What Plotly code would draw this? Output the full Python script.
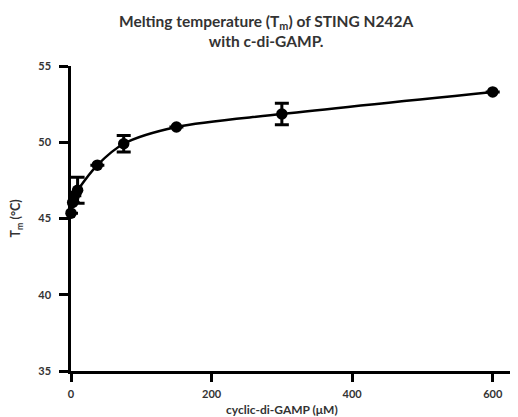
import plotly.graph_objects as go

# Data
conc_uM = [0, 2.34, 4.69, 9.375, 37.5, 75, 150, 300, 600]
tm_C = [45.35, 46.05, 46.5, 46.85, 48.5, 49.9, 51.0, 51.85, 53.3]
tm_err = [None, None, None, 0.85, None, 0.54, None, 0.7, None]

y_ticks = [35, 40, 45, 50, 55]
x_ticks = [0, 200, 400, 600]

FONT = "Lato"
TXT = "#333333"

fig = go.Figure()

# fitted curve (smooth line through the measured points)
fig.add_trace(go.Scatter(
    x=conc_uM, y=tm_C, mode="lines",
    line=dict(color="black", width=2.5, shape="spline", smoothing=0.9),
    hoverinfo="skip", cliponaxis=False, showlegend=False,
))

# measured points with error bars
fig.add_trace(go.Scatter(
    x=conc_uM, y=tm_C, mode="markers",
    marker=dict(color="black", size=11.5),
    error_y=dict(type="data", array=tm_err, color="black", thickness=3, width=7),
    cliponaxis=False, showlegend=False,
))

# page body adds an 8px offset, so the figure is 8px smaller than the window
fig.update_layout(
    width=510, height=409,
    margin=dict(l=63, r=0, t=58, b=46),
    paper_bgcolor="white", plot_bgcolor="white",
    font=dict(family=FONT, color=TXT),
    xaxis=dict(
        range=[0, 636], tickvals=x_ticks, ticktext=[str(v) for v in x_ticks],
        showgrid=False, zeroline=False,
        showline=True, linecolor="black", linewidth=2.5,
        ticks="outside", ticklen=8, tickwidth=2.5, tickcolor="black",
        tickfont=dict(family=FONT, size=11, color=TXT, weight="bold"),
        ticklabelstandoff=3,
    ),
    yaxis=dict(
        range=[35, 55], tickvals=y_ticks, ticktext=[str(v) for v in y_ticks],
        showgrid=False, zeroline=False,
        showline=True, linecolor="black", linewidth=2.5,
        ticks="outside", ticklen=9, tickwidth=2.5, tickcolor="black",
        tickfont=dict(family=FONT, size=11, color=TXT, weight="bold"),
        ticklabelstandoff=6,
    ),
    annotations=[
        dict(text="Melting temperature (T<sub>m</sub>) of STING N242A<br>with c-di-GAMP.",
             xref="paper", yref="paper", x=0.436, y=1.185, xanchor="center", yanchor="top",
             showarrow=False, align="center",
             font=dict(family=FONT, size=15.5, color=TXT, weight="bold")),
        dict(text="T<sub>m</sub> (°C)", textangle=-90,
             xref="paper", yref="paper", x=-0.121, y=0.5, xanchor="center", yanchor="middle",
             showarrow=False,
             font=dict(family=FONT, size=12.5, color=TXT, weight="bold")),
        dict(text="cyclic-di-GAMP (μM)",
             xref="paper", yref="paper", x=0.472, y=-0.125, xanchor="center", yanchor="middle",
             showarrow=False,
             font=dict(family=FONT, size=12, color=TXT, weight="bold")),
    ],
)

fig.write_html("out.html")
